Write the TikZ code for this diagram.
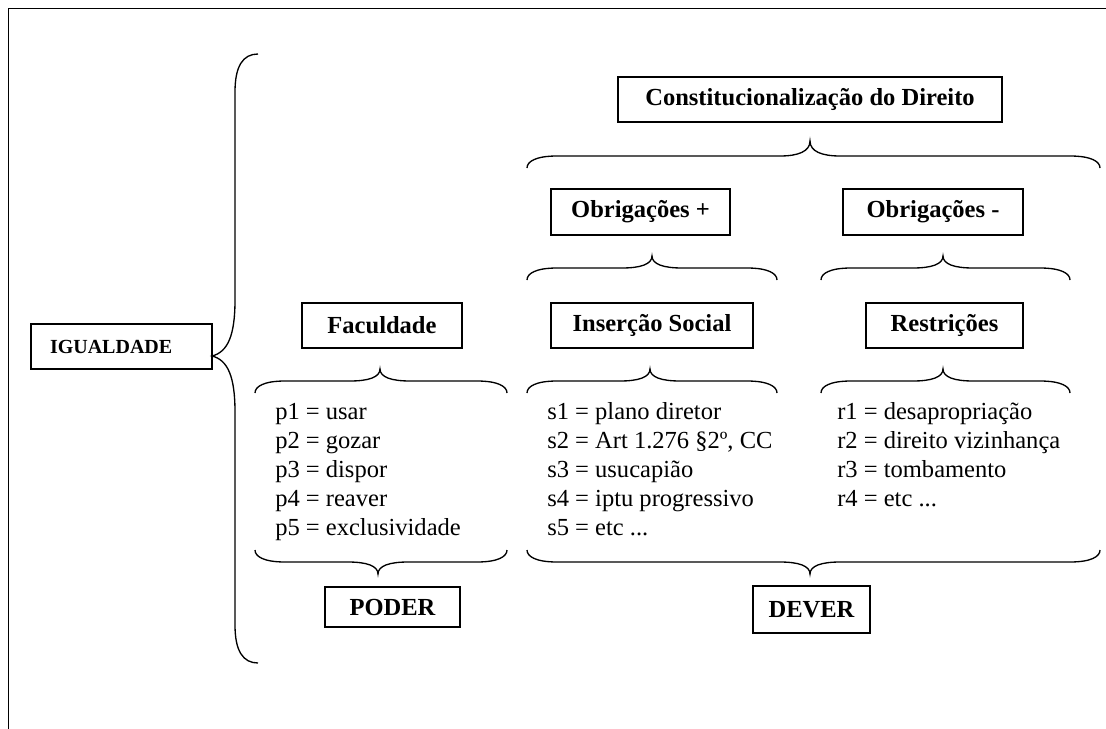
\documentclass[tikz,border=0pt]{standalone}
\usepackage{fontspec}
\setmainfont{Liberation Serif}
% horizontal curly brace: x-left, x-right, x-tip, y-ends, y-flat, y-tip
\newcommand\bracehor[6]{%
  \draw[brace] (#1,#4) .. controls ({#1},{0.45*#4+0.55*#5}) and ({#1+9},{#5}) .. ({#1+30},{#5})
    -- ({#3-30},{#5}) .. controls ({#3-12},{#5}) and ({#3},{0.7*#5+0.3*#6}) .. (#3,#6)
    .. controls ({#3},{0.7*#5+0.3*#6}) and ({#3+12},{#5}) .. ({#3+30},{#5})
    -- ({#2-30},{#5}) .. controls ({#2-9},{#5}) and ({#2},{0.45*#4+0.55*#5}) .. (#2,#4);}
\begin{document}
\begin{tikzpicture}[x=0.75pt,y=-0.75pt,
  box/.style={draw, line width=1pt, inner sep=0pt,
    font=\bfseries\fontsize{18.4}{22}\selectfont},
  brace/.style={line width=1pt},
  item/.style={anchor=base west, inner sep=0pt,
    font=\fontsize{18.4}{22}\selectfont}]
\useasboundingbox (0,0) rectangle (1106,728);
\clip (0,0) rectangle (1106,728);
% outer frame
\draw[line width=1.3pt] (8.5,8.5) rectangle (1130,750);

% left box and the large brace
\node[box, font=\bfseries\fontsize{15}{18}\selectfont, minimum height=33.75pt,
  text width=107.25pt, inner xsep=14.25pt, align=left] (igualdade) at (121.5,346.5) {IGUALDADE};
\draw[brace] (258,54) .. controls (243,54) and (235,66) .. (235,92) -- (235,300)
  .. controls (235,335) and (228,352) .. (212,356) .. controls (228,360) and (235,377) .. (235,412)
  -- (235,625) .. controls (235,651) and (243,663) .. (258,663);

% headings
\node[box, minimum width=288pt, minimum height=33.75pt] (const) at (810,99.5) {Constitucionalização do Direito};
\node[box, minimum width=134.25pt, minimum height=34.5pt] (obpos) at (640.5,212) {Obrigações +};
\node[box, minimum width=135pt, minimum height=34.5pt] (obneg) at (933,212) {Obrigações -};
\node[box, minimum width=120pt, minimum height=33.75pt] (facul) at (382,325.5) {Faculdade};
\node[box, minimum width=151.5pt, minimum height=33.75pt] (insercao) at (652,325.5) {Inserção Social};
\node[box, minimum width=117.75pt, minimum height=33.75pt] (restr) at (944.5,325.5) {Restrições};
\node[box, minimum width=101.25pt, minimum height=30pt] (poder) at (392.5,607) {PODER};
\node[box, minimum width=87.75pt, minimum height=35.25pt] (dever) at (811.5,609.5) {DEVER};

% braces
\bracehor{527}{1100}{810}{168}{156}{141}
\bracehor{527}{777}{652}{280}{268}{256}
\bracehor{821}{1070}{943}{280}{268}{256}
\bracehor{255}{507}{380}{393}{381}{369}
\bracehor{527}{777}{650}{393}{381}{369}
\bracehor{821}{1070}{943}{393}{381}{369}
\bracehor{255}{507}{378}{550}{562}{574}
\bracehor{527}{1100}{810}{550}{562}{574}

% lists
\node[item] (p1) at (275,419) {p1 = usar};
\node[item] (p2) at (275,448) {p2 = gozar};
\node[item] (p3) at (275,477) {p3 = dispor};
\node[item] (p4) at (275,506) {p4 = reaver};
\node[item] (p5) at (275,535) {p5 = exclusividade};

\node[item] (s1) at (547,419) {s1 = plano diretor};
\node[item] (s2) at (547,448) {s2 = Art 1.276 §2º, CC};
\node[item] (s3) at (547,477) {s3 = usucapião};
\node[item] (s4) at (547,506) {s4 = iptu progressivo};
\node[item] (s5) at (547,535) {s5 = etc ...};

\node[item] (r1) at (837,419) {r1 = desapropriação};
\node[item] (r2) at (837,448) {r2 = direito vizinhança};
\node[item] (r3) at (837,477) {r3 = tombamento};
\node[item] (r4) at (837,506) {r4 = etc ...};
\end{tikzpicture}
\end{document}
